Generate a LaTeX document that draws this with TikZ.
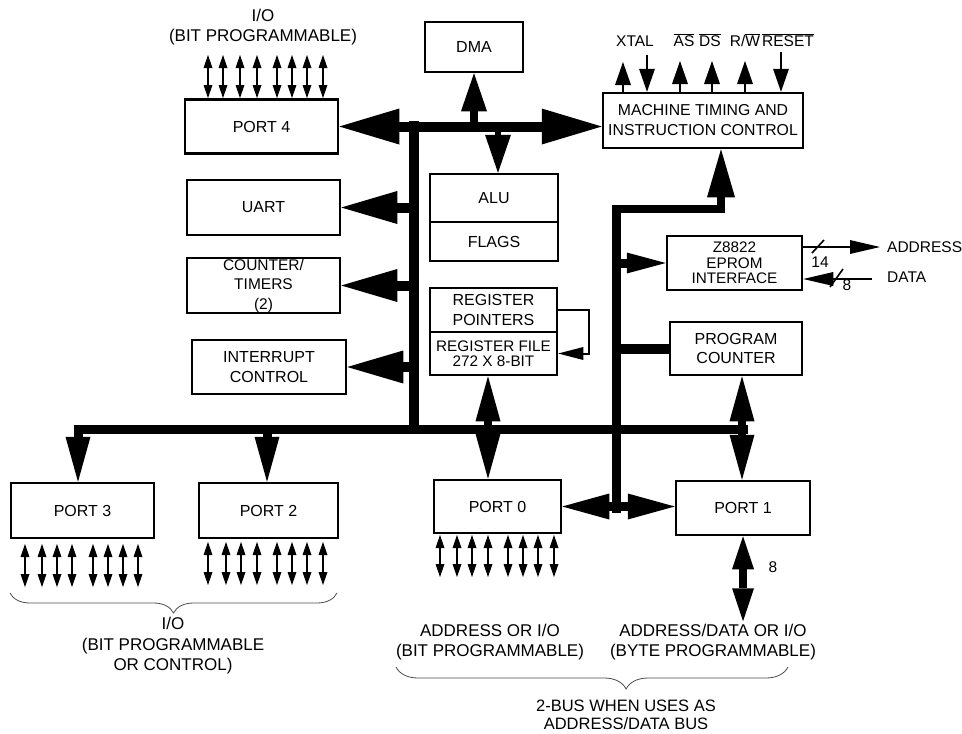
\documentclass[tikz,border=0pt]{standalone}
\usepackage{fontspec}
\setmainfont{Liberation Sans}
\usetikzlibrary{arrows.meta,decorations.pathreplacing,calc}
\tikzset{
  BH/.tip={Triangle[length=60pt,width=36pt,line width=0pt]},
  SH/.tip={Triangle[length=56pt,width=33pt,line width=0pt]},
  DH/.tip={Triangle[length=45pt,width=25pt,line width=0pt]},
  MH/.tip={Triangle[length=38pt,width=26pt,line width=0pt]},
  PH/.tip={Triangle[length=47pt,width=26pt,line width=0pt]},
  UH/.tip={Triangle[length=48pt,width=28pt,line width=0pt]},
  ZH/.tip={Triangle[length=39pt,width=21pt,line width=0pt]},
  QH/.tip={Triangle[length=33pt,width=22pt,line width=0pt]},
  TH/.tip={Triangle[length=23pt,width=16pt,line width=0pt]},
  AH/.tip={Triangle[length=30pt,width=14pt,line width=0pt]},
  RH/.tip={Triangle[length=25pt,width=13pt,line width=0pt]},
  IH/.tip={Triangle[length=13pt,width=9pt,line width=0pt]},
}
\begin{document}
\begin{tikzpicture}[x=1pt,y=-1pt,
  box/.style={draw,line width=2.5pt,inner sep=0pt,align=center,font=\fontsize{16}{19.5}\selectfont},
  lbl/.style={inner sep=0pt,align=center,font=\fontsize{17}{20.5}\selectfont},
  sig/.style={inner sep=0pt,font=\fontsize{15.5}{18}\selectfont},
  bus/.style={line width=10pt},
  io/.style={line width=1.5pt,{IH}-{IH}},
  thinsig/.style={line width=2.5pt},
  brc/.style={decorate,line width=0.8pt,draw=black!70},
]
\useasboundingbox (0,0) rectangle (962,734);

% ---------- boxes ----------
\node[box,minimum width=153pt,minimum height=54pt] (port4) at (261.5,126.5) {PORT 4};
\node[box,minimum width=98pt,minimum height=50pt] (dma) at (474,47) {DMA};
\node[box,minimum width=200pt,minimum height=55pt,font=\fontsize{15.8}{20}\selectfont] (mtic) at (703,120.5) {MACHINE TIMING AND\\INSTRUCTION CONTROL};
\node[box,minimum width=128pt,minimum height=48pt] (alu) at (494,198) {ALU};
\node[box,minimum width=128pt,minimum height=39pt] (flags) at (494,241.5) {FLAGS};
\node[box,minimum width=127pt,minimum height=44pt] (regptr) at (493.5,310) {REGISTER\\POINTERS};
\node[box,minimum width=127pt,minimum height=43pt,font=\fontsize{15.3}{14.5}\selectfont] (regfile) at (493.5,353.5) {REGISTER FILE\\272 X 8-BIT};
\node[box,minimum width=153pt,minimum height=55pt] (uart) at (263.5,207.5) {UART};
\node[box,minimum width=153pt,minimum height=55pt,font=\fontsize{15.5}{19.5}\selectfont] (ctr) at (263.5,285.5) {COUNTER/\\TIMERS\\(2)};
\node[box,minimum width=154pt,minimum height=54pt] (intr) at (269,367) {INTERRUPT\\CONTROL};
\node[box,minimum width=135pt,minimum height=54pt,font=\fontsize{15.3}{15.5}\selectfont] (eprom) at (734.5,263) {Z8822\\EPROM\\INTERFACE};
\node[box,minimum width=132pt,minimum height=53pt] (pc) at (736,348.5) {PROGRAM\\COUNTER};
\node[box,minimum width=143pt,minimum height=55pt] (port3) at (82.5,510.5) {PORT 3};
\node[box,minimum width=139pt,minimum height=55pt] (port2) at (268.5,510.5) {PORT 2};
\node[box,minimum width=127pt,minimum height=53pt] (port0) at (497.5,506.5) {PORT 0};
\node[box,minimum width=134pt,minimum height=54pt] (port1) at (743,508) {PORT 1};

% ---------- bus coordinates ----------
\coordinate (lt) at (414,121);
\coordinate (lb) at (414,434);
\coordinate (bl) at (78,429);
\coordinate (br) at (748,429);
\coordinate (b2) at (267,429);
\coordinate (rt) at (616,204.5);
\coordinate (rb) at (616,513);
\coordinate (rc) at (721,209);
\coordinate (dmax) at (474,126.5);
\coordinate (alux) at (498,126.5);
\coordinate (p0x) at (488,429);
\coordinate (p1x) at (742,429);

% ---------- main buses ----------
\draw[bus,{BH}-{BH}] (port4.east) -- (port4.east -| mtic.west);
\draw[bus] (lt) -- (lb);
\draw[bus,-{DH},line width=9pt] (br) -- (bl) -- (bl |- port3.north);
\draw[line width=9pt,-{DH}] (b2) -- (b2 |- port2.north);
\draw[bus,-{SH}] (uart.east -| lt) -- (uart.east);
\draw[bus,-{SH}] (ctr.east -| lt) -- (ctr.east);
\draw[bus,-{SH}] (intr.east -| lt) -- (intr.east);
\draw[line width=8pt,-{MH}] (dmax) -- (dma.south);
\draw[line width=6pt,-{MH}] (alux) -- (alux |- alu.north);
\draw[line width=8pt,{DH}-{DH}] (p0x |- regfile.south) -- (p0x |- port0.north);
\draw[line width=8pt,{DH}-{DH}] (p1x |- pc.south) -- (p1x |- port1.north);

% right bus
\draw[line width=9pt] (rb) -- (rt);
\draw[line width=8pt,-{UH}] (612,209) -- (rc) -- (rc |- mtic.south);
\draw[line width=9pt,-{ZH}] (rt |- eprom.west) -- (eprom.west);
\draw[line width=10pt] (rt |- pc.west) -- (pc.west);
\draw[line width=9pt,{PH}-{PH}] (port0.east) -- (port0.east -| port1.west);
\draw[line width=8pt,{QH}-{QH}] (port1.south) -- ++(0,85) coordinate (p1end);
\node[sig] (n8b) at (773,567) {8};

% register feedback
\draw[line width=2pt,-{RH}] (regptr.east) -- ++(31,0) |- (regfile.east);

% ---------- control signals ----------
\node[sig,anchor=base] (xtal) at (635,46.5) {XTAL};
\node[sig,anchor=base] (as) at (684,46.5) {$\overline{\hbox{AS}}$};
\node[sig,anchor=base] (ds) at (710,46.5) {$\overline{\hbox{DS}}$};
\node[sig,anchor=base] (rw) at (745,46.5) {R/$\overline{\hbox{W}}$};
\node[sig,anchor=base] (rst) at (788,46.5) {$\overline{\hbox{RESET}}$};
\draw[thinsig,-{TH}] (mtic.north -| 623,0) -- (623,62);
\draw[thinsig,-{TH}] (647,55) -- (mtic.north -| 647,0);
\draw[thinsig,-{TH}] (mtic.north -| 680,0) -- (680,61);
\draw[thinsig,-{TH}] (mtic.north -| 712,0) -- (712,61);
\draw[thinsig,-{TH}] (mtic.north -| 745,0) -- (745,61);
\draw[thinsig,-{TH}] (781,52) -- (mtic.north -| 781,0);

% ---------- EPROM address / data ----------
\node[sig,anchor=west] (addr) at (887,247) {ADDRESS};
\node[sig,anchor=west] (data) at (887,277) {DATA};
\coordinate (addrtip) at (880,247);
\coordinate (datast) at (872,279);
\draw[line width=2pt,-{AH}] (eprom.east |- addrtip) -- (addrtip);
\draw[line width=2pt,-{AH}] (datast) -- (eprom.east |- datast);
\draw[line width=1.6pt] (812,253) -- (824,240);
\draw[line width=1.6pt] (830,287) -- (843,269);
\node[sig] (n14) at (820,262) {14};
\node[sig] (n8a) at (847,285) {8};

% ---------- small I/O arrows ----------
\foreach \x in {208,223,240,257,277,292,307,323}
  \draw[io] (\x,55) -- (\x,98);
\foreach \x in {25,42,57,72,93,108,123,138}
  \draw[io] (\x,544) -- (\x,587);
\foreach \x in {208,226,241,257,277,292,307,323}
  \draw[io] (\x,542) -- (\x,585);
\foreach \x in {440,457,472,488,508,523,538,554}
  \draw[io] (\x,535) -- (\x,577);

% ---------- labels ----------
\node[lbl] (iotop) at (263,27) {I/O\\(BIT PROGRAMMABLE)};
\draw[brc,decoration={brace,mirror,amplitude=20pt}] (10,593) -- (337,593);
\node[lbl] (iobot) at (173,646) {I/O\\(BIT PROGRAMMABLE\\OR CONTROL)};
\node[lbl] (ad0) at (490,642) {ADDRESS OR I/O\\(BIT PROGRAMMABLE)};
\node[lbl] (ad1) at (713,642) {ADDRESS/DATA OR I/O\\(BYTE PROGRAMMABLE)};
\draw[brc,decoration={brace,mirror,amplitude=22pt,aspect=0.587}] (396,667) -- (788,667);
\node[lbl,font=\fontsize{16.5}{17.5}\selectfont] (bus2) at (626,715) {2-BUS WHEN USES AS\\ADDRESS/DATA BUS};
\end{tikzpicture}
\end{document}
